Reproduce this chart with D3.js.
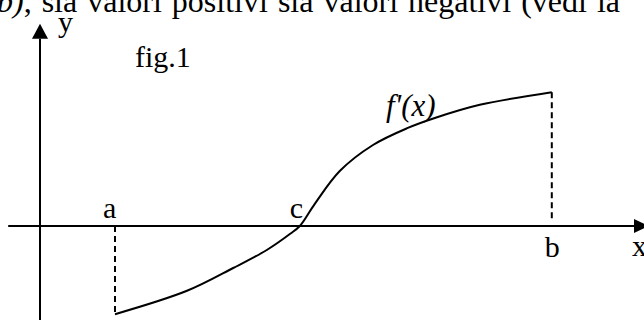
<!DOCTYPE html>
<html>
<head>
<meta charset="utf-8">
<script src="https://cdn.jsdelivr.net/npm/d3@7"></script>
<style>
  html, body { margin: 0; padding: 0; background: #fff; }
  svg { display: block; }
  text { font-family: "Liberation Serif", "Times New Roman", serif; fill: #000; }
</style>
</head>
<body>
<svg id="chart" width="644" height="320"></svg>
<script>
// Derivative curve f'(x), sampled along the interval [a, b]
const curveX = [12.5, 24.5, 32.2, 37.8, 41.7, 43.3, 45.8, 50.0, 55.5, 61.2, 65.8, 73.3, 85.3];
const curveY = [-14.7, -10.8, -7.0, -4.0, -1.3, 0.0, 3.7, 9.2, 13.5, 16.3, 18.0, 20.2, 22.3];

// Marked points on the x axis
const pointNames = ["a", "c", "b"];
const pointX = [12.5, 43.3, 85.3];

// Axis extents (data units)
const xAxisRange = [-5.3, 99.0];
const yAxisRange = [-15.7, 31.2];

const svg = d3.select("#chart");

const x = d3.scaleLinear().domain([0, 100]).range([40, 640]);
const y = d3.scaleLinear().domain([-15.667, 34.333]).range([320, 20]);

const stroke = "#000";
const labelSize = 30;

// x axis with arrow
svg.append("line")
  .attr("x1", x(xAxisRange[0])).attr("x2", x(xAxisRange[1]))
  .attr("y1", y(0)).attr("y2", y(0))
  .attr("stroke", stroke).attr("stroke-width", 2);
const xe = x(xAxisRange[1]);
svg.append("path")
  .attr("d", `M${xe},${y(0) - 7}L${xe + 15},${y(0)}L${xe},${y(0) + 7}Z`)
  .attr("fill", stroke);

// y axis with arrow
svg.append("line")
  .attr("x1", x(0)).attr("x2", x(0))
  .attr("y1", y(yAxisRange[0])).attr("y2", y(yAxisRange[1]))
  .attr("stroke", stroke).attr("stroke-width", 2);
const ye = y(yAxisRange[1]);
svg.append("path")
  .attr("d", `M${x(0) - 8},${ye}L${x(0)},${ye - 15}L${x(0) + 8},${ye}Z`)
  .attr("fill", stroke);

// the curve
const pts = curveX.map((d, i) => [d, curveY[i]]);
const line = d3.line().x(d => x(d[0])).y(d => y(d[1])).curve(d3.curveCatmullRom.alpha(0.5));
svg.append("path")
  .attr("d", line(pts))
  .attr("fill", "none")
  .attr("stroke", stroke)
  .attr("stroke-width", 2)
  .attr("stroke-linejoin", "round");

// dashed verticals at the interval ends
const first = pts[0], last = pts[pts.length - 1];
svg.append("line")
  .attr("x1", x(first[0])).attr("x2", x(first[0]))
  .attr("y1", y(0)).attr("y2", y(first[1]))
  .attr("stroke", stroke).attr("stroke-width", 2)
  .attr("stroke-dasharray", "6,4");
svg.append("line")
  .attr("x1", x(last[0])).attr("x2", x(last[0]))
  .attr("y1", y(last[1])).attr("y2", y(1.3))
  .attr("stroke", stroke).attr("stroke-width", 2)
  .attr("stroke-dasharray", "6,4");

// point labels
const labelPos = {
  a: { dx: -12, y: y(0) - 8 },
  c: { dx: -10, y: y(0) - 8 },
  b: { dx: -7, y: y(0) + 31 }
};
pointNames.forEach((n, i) => {
  svg.append("text")
    .attr("x", x(pointX[i]) + labelPos[n].dx)
    .attr("y", labelPos[n].y)
    .attr("font-size", labelSize)
    .text(n);
});

// axis names
svg.append("text").attr("x", x(0) + 18).attr("y", 32).attr("font-size", labelSize).text("y");
svg.append("text").attr("x", 632).attr("y", y(0) + 30).attr("font-size", labelSize).text("x");

// figure tag and curve name
svg.append("text").attr("x", 135).attr("y", 67).attr("font-size", labelSize).text("fig.1");
svg.append("text").attr("x", 386).attr("y", 116).attr("font-size", 31)
  .attr("font-style", "italic").text("f'(x)");

// running text line above the figure, justified to the column width
const headLine = svg.append("text").attr("x", -3).attr("y", 12).attr("font-size", 32);
headLine.append("tspan").attr("font-style", "italic").text("b)");
headLine.append("tspan").text(", sia valori positivi sia valori negativi (vedi la");
const natural = headLine.node().getComputedTextLength();
const gaps = 8;
headLine.attr("word-spacing", (623 - natural) / gaps);
</script>
</body>
</html>
